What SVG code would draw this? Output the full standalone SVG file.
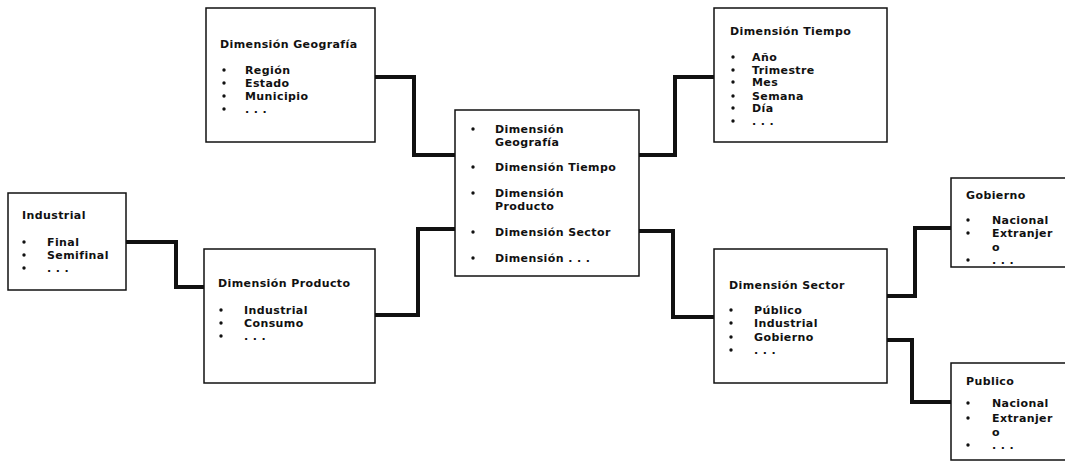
<svg xmlns="http://www.w3.org/2000/svg" width="1065" height="461" viewBox="0 0 1065 461">
<style>
.box{fill:#fff;stroke:#111;stroke-width:1.5}
.t{font-family:"DejaVu Sans","Liberation Sans",sans-serif;font-weight:bold;font-size:11px;letter-spacing:0.4px;fill:#111}
.b{fill:#111}
.c{fill:none;stroke:#111;stroke-width:4;stroke-linejoin:miter}
</style>
<rect width="1065" height="461" fill="#fff"/>
<g id="connectors">
<path class="c" d="M375,77 H414 V155 H455"/>
<path class="c" d="M375,315 H418 V229 H455"/>
<path class="c" d="M639,155 H675 V77 H714"/>
<path class="c" d="M639,231 H673 V317 H714"/>
<path class="c" d="M126,242 H176 V287 H204"/>
<path class="c" d="M887,296 H915 V228 H951"/>
<path class="c" d="M887,340 H912 V402 H951"/>
</g>
<g id="geografia">
<rect class="box" x="206" y="8" width="169" height="134"/>
<text class="t" x="220" y="48">Dimensión Geografía</text>
<circle class="b" cx="224" cy="70" r="1.7"/><text class="t" x="245" y="74">Región</text>
<circle class="b" cx="224" cy="83" r="1.7"/><text class="t" x="245" y="87">Estado</text>
<circle class="b" cx="224" cy="96" r="1.7"/><text class="t" x="245" y="100">Municipio</text>
<circle class="b" cx="224" cy="109" r="1.7"/><text class="t" x="245" y="113">. . .</text>
</g>
<g id="tiempo">
<rect class="box" x="714" y="8" width="173" height="134"/>
<text class="t" x="730" y="35">Dimensión Tiempo</text>
<circle class="b" cx="733" cy="57" r="1.7"/><text class="t" x="752" y="61">Año</text>
<circle class="b" cx="733" cy="70" r="1.7"/><text class="t" x="752" y="74">Trimestre</text>
<circle class="b" cx="733" cy="82" r="1.7"/><text class="t" x="752" y="86">Mes</text>
<circle class="b" cx="733" cy="96" r="1.7"/><text class="t" x="752" y="100">Semana</text>
<circle class="b" cx="733" cy="108" r="1.7"/><text class="t" x="752" y="112">Día</text>
<circle class="b" cx="733" cy="121" r="1.7"/><text class="t" x="752" y="125">. . .</text>
</g>
<g id="central">
<rect class="box" x="455" y="110" width="184" height="166"/>
<circle class="b" cx="473" cy="129" r="1.7"/><text class="t" x="495" y="133">Dimensión</text>
<text class="t" x="495" y="146">Geografía</text>
<circle class="b" cx="473" cy="167" r="1.7"/><text class="t" x="495" y="171">Dimensión Tiempo</text>
<circle class="b" cx="473" cy="193" r="1.7"/><text class="t" x="495" y="197">Dimensión</text>
<text class="t" x="495" y="210">Producto</text>
<circle class="b" cx="473" cy="232" r="1.7"/><text class="t" x="495" y="236">Dimensión Sector</text>
<circle class="b" cx="473" cy="258" r="1.7"/><text class="t" x="495" y="262">Dimensión . . .</text>
</g>
<g id="industrial">
<rect class="box" x="8" y="193" width="118" height="97"/>
<text class="t" x="22" y="219">Industrial</text>
<circle class="b" cx="24" cy="242" r="1.7"/><text class="t" x="47" y="246">Final</text>
<circle class="b" cx="24" cy="255" r="1.7"/><text class="t" x="47" y="259">Semifinal</text>
<circle class="b" cx="24" cy="268" r="1.7"/><text class="t" x="47" y="272">. . .</text>
</g>
<g id="producto">
<rect class="box" x="204" y="249" width="171" height="134"/>
<text class="t" x="218" y="287">Dimensión Producto</text>
<circle class="b" cx="221" cy="310" r="1.7"/><text class="t" x="244" y="314">Industrial</text>
<circle class="b" cx="221" cy="323" r="1.7"/><text class="t" x="244" y="327">Consumo</text>
<circle class="b" cx="221" cy="336" r="1.7"/><text class="t" x="244" y="340">. . .</text>
</g>
<g id="sector">
<rect class="box" x="714" y="249" width="173" height="134"/>
<text class="t" x="729" y="289">Dimensión Sector</text>
<circle class="b" cx="731" cy="310" r="1.7"/><text class="t" x="754" y="314">Público</text>
<circle class="b" cx="731" cy="323" r="1.7"/><text class="t" x="754" y="327">Industrial</text>
<circle class="b" cx="731" cy="337" r="1.7"/><text class="t" x="754" y="341">Gobierno</text>
<circle class="b" cx="731" cy="350" r="1.7"/><text class="t" x="754" y="354">. . .</text>
</g>
<g id="gobierno">
<rect class="box" x="951" y="178" width="130" height="89"/>
<text class="t" x="966" y="199">Gobierno</text>
<circle class="b" cx="968" cy="220" r="1.7"/><text class="t" x="992" y="224">Nacional</text>
<circle class="b" cx="968" cy="233" r="1.7"/><text class="t" x="992" y="237">Extranjer</text>
<text class="t" x="992" y="251">o</text>
<circle class="b" cx="968" cy="260" r="1.7"/><text class="t" x="992" y="264">. . .</text>
</g>
<g id="publico">
<rect class="box" x="951" y="363" width="130" height="97"/>
<text class="t" x="966" y="385">Publico</text>
<circle class="b" cx="968" cy="403" r="1.7"/><text class="t" x="992" y="407">Nacional</text>
<circle class="b" cx="968" cy="418" r="1.7"/><text class="t" x="992" y="422">Extranjer</text>
<text class="t" x="992" y="436">o</text>
<circle class="b" cx="968" cy="445" r="1.7"/><text class="t" x="992" y="449">. . .</text>
</g>
</svg>
